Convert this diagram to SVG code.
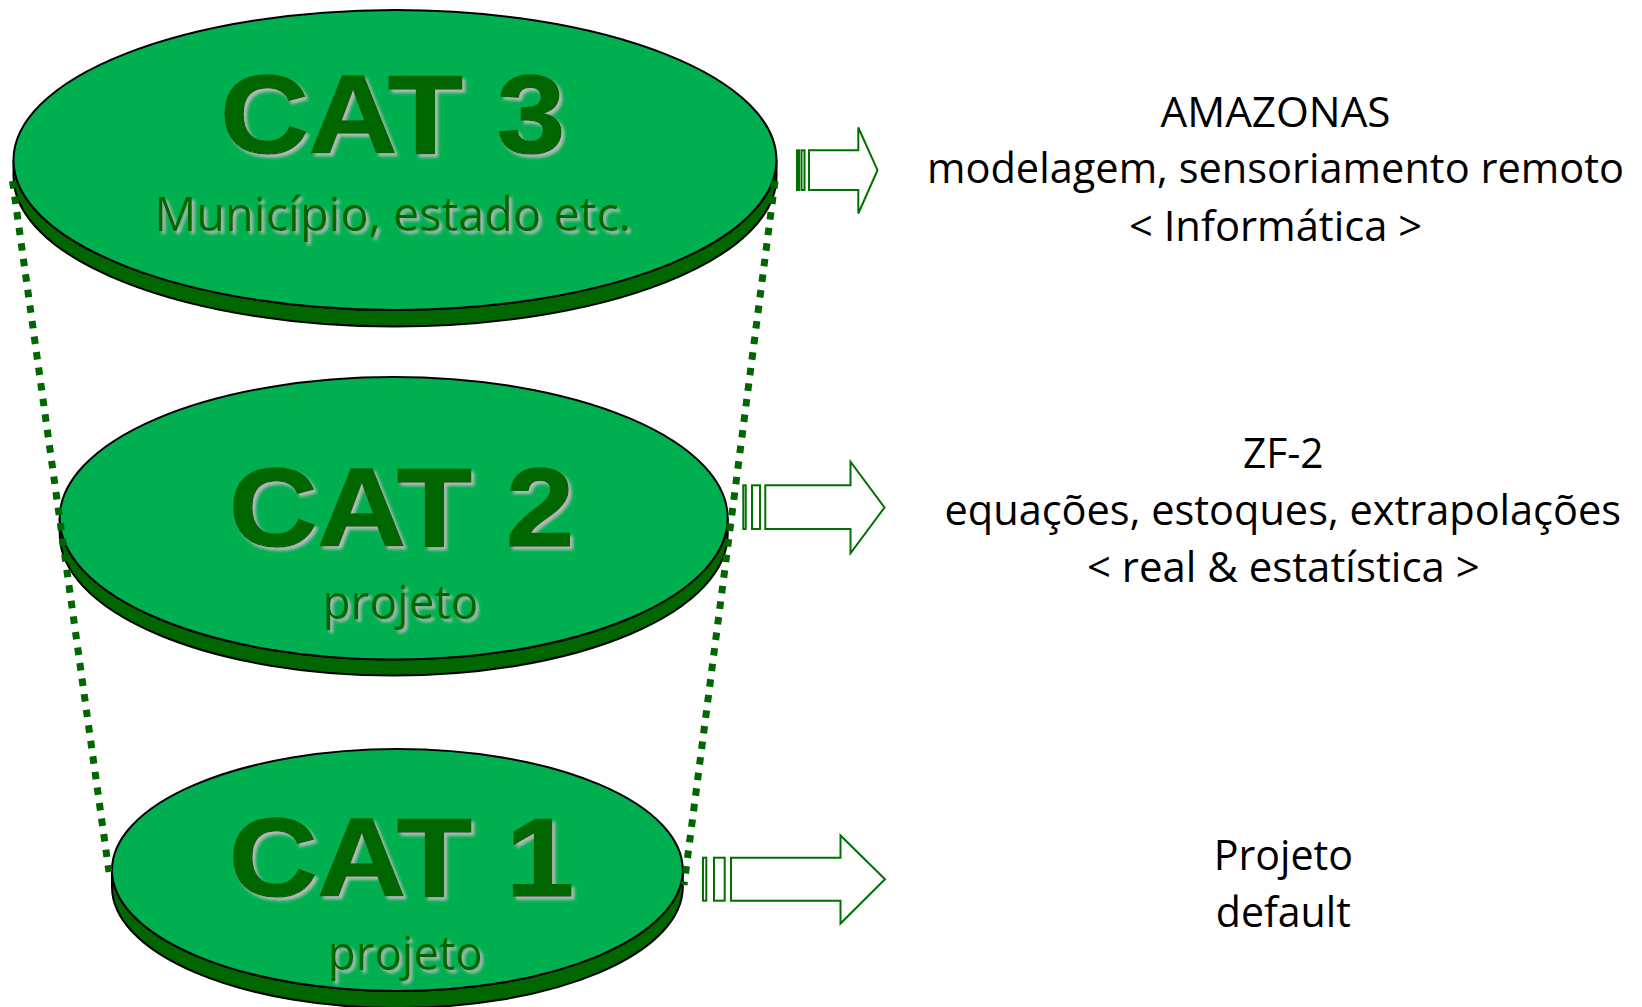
<svg xmlns="http://www.w3.org/2000/svg" width="1642" height="1007" viewBox="0 0 1642 1007">
<defs>
<style>
.top{fill:#00B050;stroke:#000;stroke-width:2}
.side{fill:#006600;stroke:#000;stroke-width:2}
.big{font-family:"Liberation Sans",Arial,sans-serif;font-weight:bold;font-size:111px;fill:#006600;stroke:#006600;stroke-width:1.5;text-anchor:middle}
.sub{font-family:"Open Sans","Noto Sans",sans-serif;font-size:47px;fill:#006600;text-anchor:middle}
.lbl{font-family:"Open Sans","Noto Sans",sans-serif;font-size:42px;fill:#000;text-anchor:middle}
.dot{fill:none;stroke:#006600;stroke-width:7;stroke-dasharray:7.5 8.2}
.arr{fill:#fff;stroke:#007000;stroke-width:2}
.arrf{fill:#007000;stroke:#007000;stroke-width:2}
</style>
<filter id="sh" x="-10%" y="-20%" width="130%" height="150%">
<feGaussianBlur in="SourceAlpha" stdDeviation="1.6" result="b"/>
<feOffset in="b" dx="3" dy="3" result="o"/>
<feFlood flood-color="#b8b8b8"/>
<feComposite in2="o" operator="in" result="s"/>
<feMerge><feMergeNode in="s"/><feMergeNode in="SourceGraphic"/></feMerge>
</filter>
</defs>
<rect width="1642" height="1007" fill="#fff"/>

<g id="cat3">
<path class="side" d="M13.5,160 L13.5,176.5 A381.5,150 0 0 0 776.5,176.5 L776.5,160 A381.5,150 0 0 1 13.5,160 Z"/>
<ellipse class="top" cx="395" cy="160" rx="381.5" ry="150"/>
<text class="big" x="392.7" y="153" textLength="345" lengthAdjust="spacingAndGlyphs" filter="url(#sh)">CAT 3</text>
<text class="sub" x="392.7" y="230.5" textLength="477" lengthAdjust="spacingAndGlyphs" filter="url(#sh)">Município, estado etc.</text>
</g>

<g id="cat2">
<path class="side" d="M59.7,518.3 L59.7,534.3 A334,141.3 0 0 0 727.7,534.3 L727.7,518.3 A334,141.3 0 0 1 59.7,518.3 Z"/>
<ellipse class="top" cx="393.7" cy="518.3" rx="334" ry="141.3"/>
<text class="big" x="401.6" y="545.6" textLength="345" lengthAdjust="spacingAndGlyphs" filter="url(#sh)">CAT 2</text>
<text class="sub" x="400.5" y="619" textLength="156" lengthAdjust="spacingAndGlyphs" filter="url(#sh)">projeto</text>
</g>

<g id="cat1">
<path class="side" d="M112,870 L112,887 A285.4,121 0 0 0 682.8,887 L682.8,870 A285.4,121 0 0 1 112,870 Z"/>
<ellipse class="top" cx="397.4" cy="870" rx="285.4" ry="121"/>
<text class="big" x="401.6" y="895.5" textLength="345" lengthAdjust="spacingAndGlyphs" filter="url(#sh)">CAT 1</text>
<text class="sub" x="405.3" y="970" textLength="155" lengthAdjust="spacingAndGlyphs" filter="url(#sh)">projeto</text>
</g>

<g id="connectors">
<path class="dot" d="M12.5,181 L109,872"/>
<path class="dot" d="M775,181 L684,885"/>
</g>

<g id="arrow3">
<rect class="arrf" x="797" y="150.3" width="2" height="39.7"/>
<rect class="arr" x="801.5" y="150.3" width="3" height="39.7"/>
<path class="arr" d="M809,150.3 H858.3 V127.5 L877.5,170.2 L858.3,213.5 V190 H809 Z"/>
</g>

<g id="arrow2">
<rect class="arr" x="743.3" y="485.3" width="2.4" height="43.7"/>
<rect class="arr" x="752" y="485.3" width="8" height="43.7"/>
<path class="arr" d="M765.3,485.3 H850.5 V461.7 L884.5,507.5 L850.5,553.3 V529 H765.3 Z"/>
</g>

<g id="arrow1">
<rect class="arr" x="703" y="857.7" width="3.3" height="43"/>
<rect class="arr" x="714" y="857.7" width="10.7" height="43"/>
<path class="arr" d="M731,857.7 H840.5 V835.5 L885,879.3 L840.5,923.5 V900.7 H731 Z"/>
</g>

<g id="label3">
<text class="lbl" x="1275.5" y="126.7" textLength="230" lengthAdjust="spacingAndGlyphs">AMAZONAS</text>
<text class="lbl" x="1275.5" y="183.3" textLength="697" lengthAdjust="spacingAndGlyphs">modelagem, sensoriamento remoto</text>
<text class="lbl" x="1275.5" y="240.9" textLength="293" lengthAdjust="spacingAndGlyphs">&lt; Informática &gt;</text>
</g>

<g id="label2">
<text class="lbl" x="1283.3" y="468.1" textLength="80.6" lengthAdjust="spacingAndGlyphs">ZF-2</text>
<text class="lbl" x="1282.8" y="524.6" textLength="676.5" lengthAdjust="spacingAndGlyphs">equações, estoques, extrapolações</text>
<text class="lbl" x="1283.3" y="582.2" textLength="392.7" lengthAdjust="spacingAndGlyphs">&lt; real &amp; estatística &gt;</text>
</g>

<g id="label1">
<text class="lbl" x="1283.3" y="870.2" textLength="139.3" lengthAdjust="spacingAndGlyphs">Projeto</text>
<text class="lbl" x="1283.3" y="926.8" textLength="135" lengthAdjust="spacingAndGlyphs">default</text>
</g>
</svg>
